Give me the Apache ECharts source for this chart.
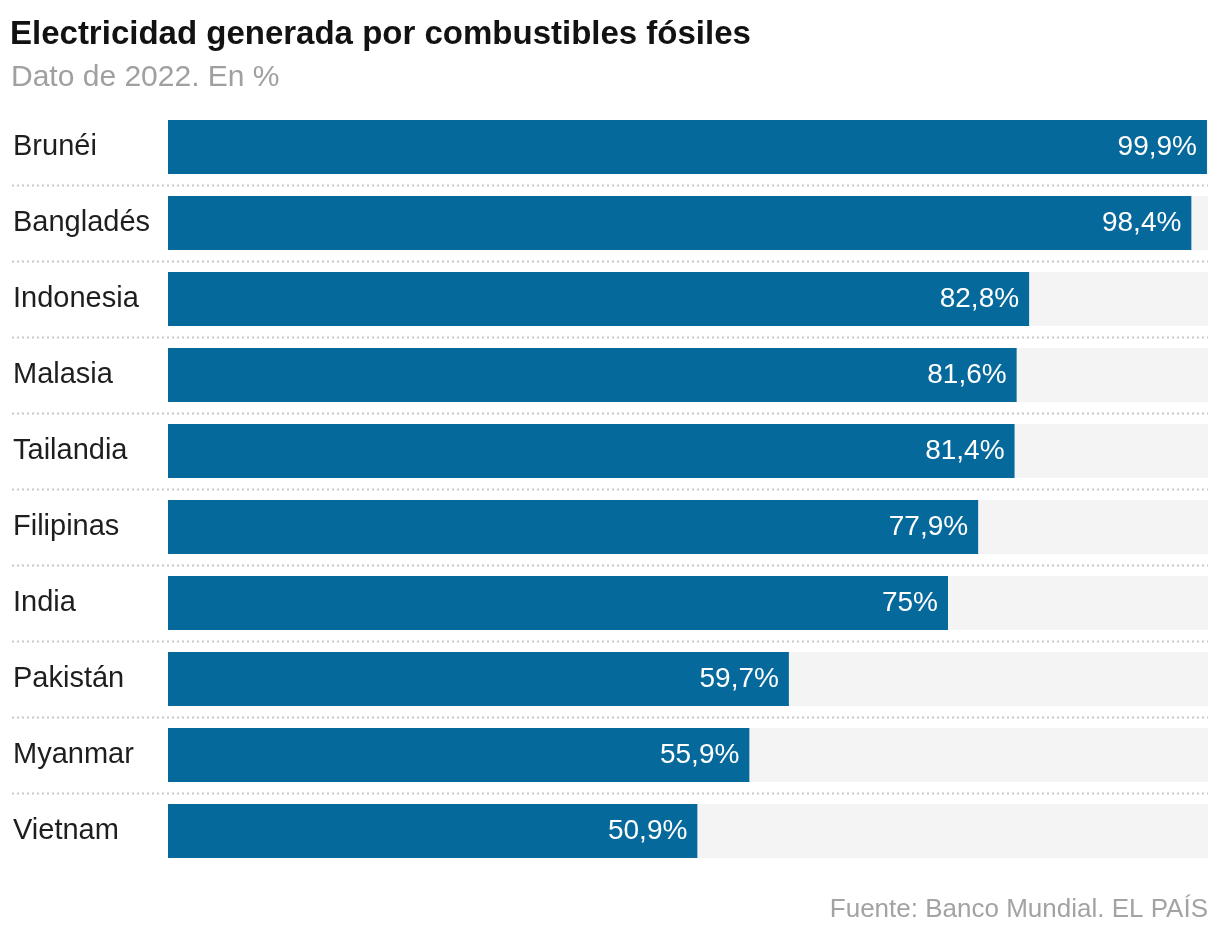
<!DOCTYPE html>
<html>
<head>
<meta charset="utf-8">
<script src="https://cdn.jsdelivr.net/npm/echarts@6/dist/echarts.min.js"></script>
<style>
html,body{margin:0;padding:0;background:#fff;}
#chart{width:1220px;height:942px;}
</style>
</head>
<body>
<div id="chart"></div>
<script>
const categories = ['Brunéi','Bangladés','Indonesia','Malasia','Tailandia','Filipinas','India','Pakistán','Myanmar','Vietnam'];
const values = [99.9, 98.4, 82.8, 81.6, 81.4, 77.9, 75, 59.7, 55.9, 50.9];
const separatorIdx = categories.slice(0, -1).map((c, i) => i);

const FONT = '"Liberation Sans", Arial, sans-serif';
const chart = echarts.init(document.getElementById('chart'));
chart.setOption({
  animation: false,
  backgroundColor: '#ffffff',
  title: [
    {
      text: 'Electricidad generada por combustibles fósiles',
      left: 5, top: 13,
      textStyle: {fontFamily: FONT, fontSize: 33, fontWeight: 'bold', color: '#121212'}
    },
    {
      text: 'Dato de 2022. En %',
      left: 6, top: 58,
      textStyle: {fontFamily: FONT, fontSize: 30, fontWeight: 'normal', color: '#a0a0a0'}
    },
    {
      text: 'Fuente: Banco Mundial. EL PAÍS',
      right: 7, top: 892,
      textStyle: {fontFamily: FONT, fontSize: 26, fontWeight: 'normal', color: '#a3a3a3'}
    }
  ],
  grid: [
    {left: 168, right: 12, top: 109, height: 760, containLabel: false},
    {left: 12, right: 12, top: 109, height: 760, containLabel: false}
  ],
  xAxis: [
    {type: 'value', gridIndex: 0, min: 0, max: 100, show: false},
    {type: 'value', gridIndex: 1, min: 0, max: 100, show: false}
  ],
  yAxis: [
    {
      type: 'category', gridIndex: 0, data: categories, inverse: true,
      axisLine: {show: false}, axisTick: {show: false}, splitLine: {show: false},
      axisLabel: {
        align: 'left', margin: 155,
        fontFamily: FONT, fontSize: 29, color: '#1e1e1e'
      }
    },
    {
      type: 'category', gridIndex: 1, data: categories, inverse: true, show: false
    }
  ],
  series: [
    {
      type: 'bar', xAxisIndex: 0, yAxisIndex: 0,
      data: values, barWidth: 54,
      itemStyle: {color: '#06699c'},
      showBackground: true,
      backgroundStyle: {color: '#f4f4f4'},
      label: {
        show: true, position: 'insideRight', distance: 10,
        fontFamily: FONT, fontSize: 28, color: '#ffffff',
        formatter: p => String(p.value).replace('.', ',') + '%'
      }
    },
    {
      type: 'custom', xAxisIndex: 1, yAxisIndex: 1,
      data: separatorIdx,
      silent: true,
      renderItem: function (params, api) {
        const idx = api.value(0);
        const start = api.coord([0, idx]);
        const end = api.coord([100, idx]);
        const band = api.size([0, 1])[1];
        const y = Math.round(start[1] + band / 2) + 0.5;
        return {
          type: 'line',
          shape: {x1: start[0], y1: y, x2: end[0], y2: y},
          style: {stroke: '#c8c8c8', lineWidth: 2, lineDash: [2, 3]}
        };
      },
      encode: {y: 0}
    }
  ]
});
</script>
</body>
</html>
